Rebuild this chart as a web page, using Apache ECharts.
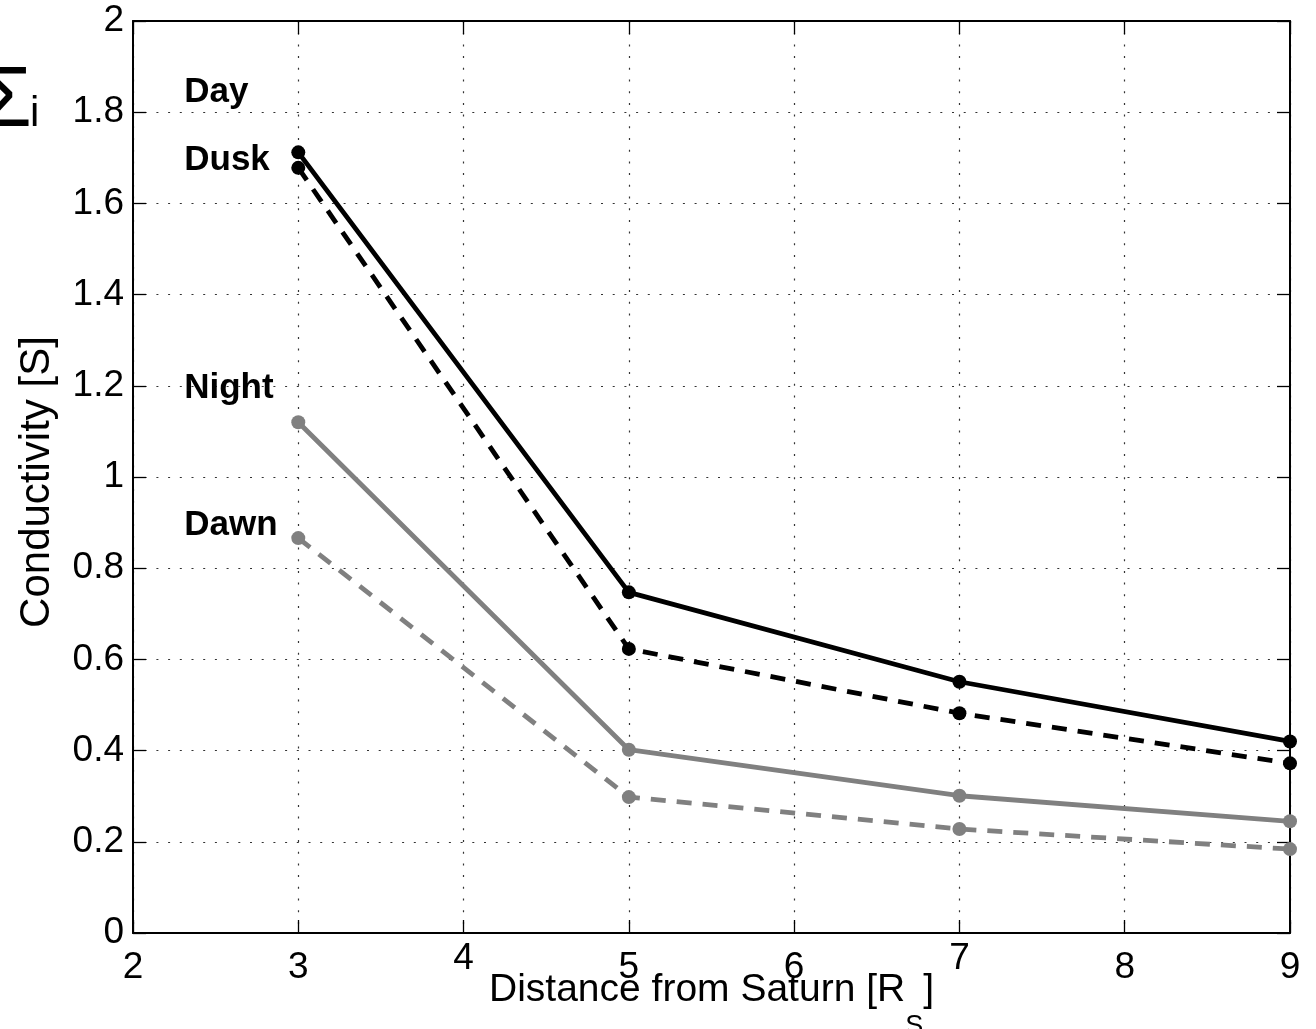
<!DOCTYPE html>
<html>
<head>
<meta charset="utf-8">
<script src="https://cdn.jsdelivr.net/npm/echarts@6/dist/echarts.min.js"></script>
<style>
  html, body { margin: 0; padding: 0; background: #fff; }
  #chart { width: 1316px; height: 1029px; }
</style>
</head>
<body>
<div id="chart"></div>
<script>
// Radial distances (Saturn radii) where the conductivity was evaluated
const distances = [3, 5, 7, 9];

// Ionospheric conductivity [S] per local-time sector
const dayValues   = [1.712, 0.747, 0.551, 0.420];
const duskValues  = [1.678, 0.623, 0.482, 0.372];
const nightValues = [1.120, 0.402, 0.301, 0.245];
const dawnValues  = [0.866, 0.298, 0.228, 0.184];

// Sector names and the data coordinates of their text annotations
const sectorNames = ['Day', 'Dusk', 'Night', 'Dawn'];
const sectorLabelX = 2.31;
const sectorLabelY = [1.85, 1.70, 1.20, 0.90];

// Axis ranges / ticks
const xRange = { min: 2, max: 9, step: 1 };
const yRange = { min: 0, max: 2, step: 0.2 };
const raisedXTicks = [4, 7];

const FONT = '"Liberation Sans", Arial, Helvetica, sans-serif';
const BLACK = '#000000';
const GRAY = '#808080';

const chart = echarts.init(document.getElementById('chart'), null, { renderer: 'canvas' });

function pairs(values) {
  return distances.map((d, i) => [d, values[i]]);
}

function lineSeries(name, values, color, dashed) {
  return {
    name: name,
    type: 'line',
    data: pairs(values),
    symbol: 'circle',
    symbolSize: 14,
    showSymbol: true,
    animation: false,
    itemStyle: { color: color },
    lineStyle: {
      color: color,
      width: 4.8,
      type: dashed ? [15, 11] : 'solid',
      cap: 'butt'
    },
    emphasis: { disabled: true },
    z: 3
  };
}

const gridLine = { show: true, lineStyle: { color: '#333', width: 1.2, type: [2, 9.7] } };
const tickStyle = { show: true, inside: true, length: 13, lineStyle: { color: BLACK, width: 1.3 } };
const axisLine = { show: true, onZero: false, lineStyle: { color: BLACK, width: 2 } };

const option = {
  backgroundColor: '#ffffff',
  animation: false,
  grid: { left: 133, right: 26, top: 21, bottom: 96, containLabel: false, outerBoundsMode: 'none' },
  xAxis: [
    {
      type: 'value',
      min: xRange.min, max: xRange.max, interval: xRange.step,
      position: 'bottom',
      axisLine: axisLine,
      axisTick: tickStyle,
      splitLine: gridLine,
      axisLabel: {
        show: true,
        margin: 16,
        color: BLACK,
        fontFamily: FONT,
        fontSize: 37,
        formatter: function (v) {
          return raisedXTicks.indexOf(v) >= 0 ? '{hi|' + v + '}' : '{lo|' + v + '}';
        },
        rich: {
          lo: { fontFamily: FONT, fontSize: 37, color: BLACK, lineHeight: 37 },
          hi: { fontFamily: FONT, fontSize: 37, color: BLACK, lineHeight: 20 }
        }
      },
      name: '{n|Distance from Saturn [R}{s|S}{n|]}',
      nameLocation: 'middle',
      nameGap: 38,
      nameMoveOverlap: false,
      nameTextStyle: {
        color: BLACK,
        fontFamily: FONT,
        fontSize: 39,
        rich: {
          n: { fontFamily: FONT, fontSize: 39, color: BLACK, lineHeight: 39, verticalAlign: 'top' },
          s: { fontFamily: FONT, fontSize: 27, color: BLACK, lineHeight: 69, verticalAlign: 'bottom' }
        }
      }
    },
    {
      type: 'value',
      min: xRange.min, max: xRange.max, interval: xRange.step,
      position: 'top',
      axisLine: axisLine,
      axisTick: tickStyle,
      axisLabel: { show: false },
      splitLine: { show: false }
    }
  ],
  yAxis: [
    {
      type: 'value',
      min: yRange.min, max: yRange.max, interval: yRange.step,
      position: 'left',
      axisLine: axisLine,
      axisTick: tickStyle,
      splitLine: gridLine,
      axisLabel: {
        show: true,
        margin: 9,
        color: BLACK,
        fontFamily: FONT,
        fontSize: 37,
        formatter: function (v) { return String(Math.round(v * 10) / 10); }
      },
      name: 'Conductivity [S]',
      nameLocation: 'middle',
      nameGap: 75,
      nameMoveOverlap: false,
      nameTextStyle: { color: BLACK, fontFamily: FONT, fontSize: 42, padding: [0, 10, 0, 0] }
    },
    {
      type: 'value',
      min: yRange.min, max: yRange.max, interval: yRange.step,
      position: 'right',
      axisLine: axisLine,
      axisTick: tickStyle,
      axisLabel: { show: false },
      splitLine: { show: false }
    }
  ],
  series: [
    lineSeries('Dawn', dawnValues, GRAY, true),
    lineSeries('Night', nightValues, GRAY, false),
    lineSeries('Dusk', duskValues, BLACK, true),
    lineSeries('Day', dayValues, BLACK, false)
  ]
};

chart.setOption(option);

// Sector annotations placed in data coordinates, plus the Σ_i symbol at the upper left
const texts = sectorNames.map((name, i) => {
  const p = chart.convertToPixel({ xAxisIndex: 0, yAxisIndex: 0 }, [sectorLabelX, sectorLabelY[i]]);
  return {
    type: 'text',
    x: p[0], y: p[1] + 3,
    style: {
      text: name,
      fill: BLACK,
      font: 'bold 35px ' + FONT,
      textAlign: 'left',
      textVerticalAlign: 'middle'
    },
    z: 10
  };
});

texts.push({
  type: 'text',
  x: 32, y: 102,
  style: { text: 'Σ', fill: BLACK, font: '86px ' + FONT, textAlign: 'right', textVerticalAlign: 'middle' },
  z: 10
});
texts.push({
  type: 'text',
  x: 30, y: 114,
  style: { text: 'i', fill: BLACK, font: '42px ' + FONT, textAlign: 'left', textVerticalAlign: 'middle' },
  z: 10
});

chart.setOption({ graphic: texts });
</script>
</body>
</html>
